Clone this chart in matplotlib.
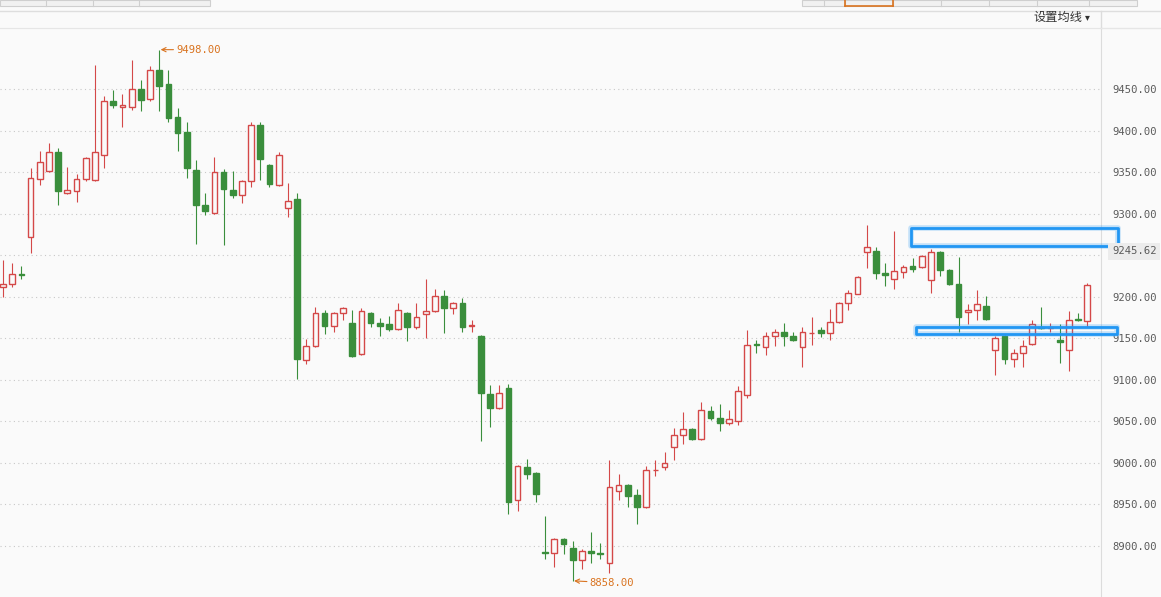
"""Candlestick chart with right-hand price axis, recreated from a screenshot."""

import matplotlib
matplotlib.use("Agg")
import matplotlib.pyplot as plt
from matplotlib.lines import Line2D
from matplotlib.patches import Rectangle
from matplotlib.transforms import blended_transform_factory
import numpy as np

# ---- data ------------------------------------------------------------------
opens = [
    9212, 9216, 9228, 9272, 9342, 9352, 9375, 9325, 9328, 9342,
    9341, 9371, 9436, 9429, 9429, 9451, 9439, 9474, 9457, 9417,
    9399, 9353, 9311, 9301, 9351, 9329, 9323, 9340, 9407, 9359,
    9335, 9307, 9318, 9124, 9141, 9181, 9165, 9181, 9169, 9131,
    9181, 9169, 9167, 9161, 9181, 9164, 9180, 9183, 9201, 9187,
    9193, 9165, 9153, 9083, 9066, 9090, 8955, 8995, 8988, 8893,
    8891, 8908, 8898, 8883, 8894, 8891, 8880, 8966, 8974, 8961,
    8947, 8991, 8995, 9019, 9034, 9041, 9029, 9063, 9054, 9048,
    9051, 9082, 9143, 9140, 9153, 9158, 9153, 9140, 9156, 9160,
    9157, 9170, 9193, 9204, 9254, 9255, 9229, 9222, 9230, 9237,
    9236, 9221, 9254, 9233, 9216, 9182, 9184, 9189, 9136, 9153,
    9125, 9133, 9143, 9164, 9163, 9148, 9136, 9174, 9171,
]
highs = [
    9245, 9241, 9237, 9355, 9376, 9386, 9380, 9357, 9348, 9369,
    9480, 9442, 9449, 9445, 9486, 9461, 9478, 9498, 9474, 9428,
    9411, 9365, 9325, 9369, 9354, 9352, 9341, 9411, 9411, 9360,
    9375, 9337, 9325, 9149, 9188, 9184, 9182, 9188, 9184, 9187,
    9182, 9175, 9177, 9193, 9182, 9193, 9222, 9210, 9208, 9194,
    9199, 9172, 9154, 9094, 9094, 9095, 8998, 9005, 8989, 8936,
    8909, 8909, 8906, 8896, 8917, 8904, 9004, 8987, 8975, 8969,
    8996, 9004, 9013, 9042, 9061, 9042, 9074, 9069, 9071, 9064,
    9093, 9160, 9148, 9158, 9161, 9169, 9158, 9164, 9176, 9164,
    9186, 9194, 9208, 9225, 9287, 9260, 9241, 9280, 9239, 9247,
    9251, 9258, 9255, 9234, 9248, 9192, 9208, 9201, 9153, 9154,
    9137, 9148, 9172, 9188, 9169, 9167, 9183, 9181, 9217,
]
lows = [
    9200, 9212, 9222, 9253, 9335, 9350, 9311, 9324, 9314, 9340,
    9340, 9355, 9428, 9405, 9425, 9424, 9436, 9424, 9411, 9376,
    9343, 9264, 9299, 9300, 9263, 9319, 9313, 9333, 9341, 9333,
    9334, 9296, 9101, 9119, 9140, 9155, 9158, 9172, 9128, 9130,
    9164, 9153, 9159, 9160, 9147, 9161, 9151, 9182, 9157, 9180,
    9158, 9158, 9027, 9043, 9065, 8938, 8942, 8981, 8953, 8884,
    8875, 8890, 8858, 8872, 8880, 8884, 8868, 8955, 8947, 8927,
    8946, 8984, 8992, 9004, 9023, 9028, 9028, 9052, 9039, 9046,
    9046, 9078, 9133, 9130, 9141, 9141, 9147, 9116, 9142, 9152,
    9148, 9169, 9184, 9203, 9235, 9222, 9213, 9210, 9223, 9230,
    9235, 9205, 9225, 9215, 9158, 9167, 9172, 9172, 9106, 9119,
    9116, 9116, 9142, 9161, 9158, 9120, 9111, 9171, 9164,
]
closes = [
    9216, 9228, 9227, 9343, 9363, 9375, 9328, 9329, 9342, 9367,
    9375, 9436, 9431, 9431, 9451, 9437, 9474, 9454, 9416, 9398,
    9355, 9311, 9304, 9351, 9330, 9323, 9340, 9407, 9366, 9336,
    9371, 9316, 9125, 9141, 9181, 9165, 9181, 9187, 9129, 9183,
    9169, 9165, 9161, 9184, 9164, 9176, 9183, 9201, 9187, 9193,
    9164, 9166, 9084, 9066, 9084, 8953, 8996, 8987, 8963, 8892,
    8908, 8902, 8883, 8894, 8891, 8890, 8971, 8974, 8960, 8947,
    8992, 8992, 9000, 9034, 9041, 9029, 9064, 9054, 9048, 9053,
    9087, 9142, 9142, 9153, 9158, 9153, 9148, 9158, 9157, 9157,
    9170, 9193, 9205, 9224, 9260, 9229, 9227, 9231, 9236, 9234,
    9249, 9254, 9233, 9216, 9176, 9184, 9192, 9174, 9151, 9125,
    9133, 9141, 9167, 9163, 9164, 9146, 9172, 9172, 9214,
]
price_ticks = [8900, 8950, 9000, 9050, 9100, 9150, 9200, 9250, 9300, 9350, 9400, 9450]
last_price = 9245.62
last_price_row = 9255          # where the price tag sits on the axis
resistance_zone = (9261, 9283)
support_zone = (9155, 9164)

# ---- style ------------------------------------------------------------------
W, H = 1161, 597
BG = "#fafafa"
RED = "#d44848"
GREEN = "#3a8e3c"
ORANGE = "#d9731f"
BLUE = "#2196f3"
TICK_FONT = dict(family="DejaVu Sans Mono", size=7.6, color="#5a5a5a")
plt.rcParams["font.family"] = ["Noto Sans CJK SC", "DejaVu Sans"]


def fx(px):
    return px / W


def fy(py):
    return 1 - py / H


fig = plt.figure(figsize=(W / 100, H / 100), dpi=100, facecolor=BG)
ax = fig.add_axes([0, 0, fx(1101), fy(28)], facecolor=BG)

o = np.array(opens, float)
h = np.array(highs, float)
l = np.array(lows, float)
c = np.array(closes, float)
x = np.arange(len(o))
up = c >= o
colors = np.where(up, RED, GREEN)

ax.vlines(x, l, h, colors=colors, lw=0.8, zorder=2)
body_lo = np.minimum(o, c)
body_h = np.maximum(np.abs(c - o), 0.8)
ax.bar(x[up], body_h[up], bottom=body_lo[up], width=0.62,
       facecolor=BG, edgecolor=RED, linewidth=1.0, zorder=3)
ax.bar(x[~up], body_h[~up], bottom=body_lo[~up], width=0.62,
       facecolor=GREEN, edgecolor=GREEN, linewidth=1.0, zorder=3)

ax.set_xlim(-0.33, 119.5)
ax.set_ylim(8838.5, 9524.1)

# the 9250 label sits under the last-price tag, so it is left blank
ax.set_yticks(price_ticks)
ax.set_yticklabels(["" if abs(t - last_price_row) < 10 else f"{t:.2f}"
                    for t in price_ticks], fontdict=TICK_FONT)
ax.yaxis.tick_right()
ax.tick_params(axis="y", length=0, pad=8)
ax.set_xticks([])
ax.grid(axis="y", color="#c8c8c8", linestyle=(0, (1, 3)), linewidth=0.8)
ax.set_axisbelow(True)
for side in ("left", "bottom"):
    ax.spines[side].set_visible(False)
ax.spines["right"].set_color("#dcdcdc")
ax.spines["top"].set_color("#e6e6e6")

# max / min markers
i_hi = int(np.argmax(h))
i_lo = int(np.argmin(l))
arrow = dict(arrowstyle="->", color=ORANGE, lw=0.8, shrinkA=0, shrinkB=1)
ax.annotate(f"{h[i_hi]:.2f}", xy=(i_hi, h[i_hi]), xytext=(17, 0),
            textcoords="offset pixels", ha="left", va="center",
            fontfamily="DejaVu Sans Mono", fontsize=7.6, color=ORANGE,
            arrowprops=arrow, annotation_clip=False)
ax.annotate(f"{l[i_lo]:.2f}", xy=(i_lo, l[i_lo]), xytext=(17, -2),
            textcoords="offset pixels", ha="left", va="center",
            fontfamily="DejaVu Sans Mono", fontsize=7.6, color=ORANGE,
            arrowprops=arrow, annotation_clip=False)

# hand-drawn zones
for (lo, hi), x0, x1 in ((resistance_zone, 98.85, 121.4), (support_zone, 99.4, 121.2)):
    for lw, a in ((4.0, 0.25), (2.0, 1.0)):
        ax.add_patch(Rectangle((x0, lo), x1 - x0, hi - lo, fill=False,
                               edgecolor=BLUE, linewidth=lw, alpha=a,
                               joinstyle="round", clip_on=False, zorder=6))

# last price tag
trans = blended_transform_factory(ax.transAxes, ax.transData)
ax.text(1 + 11 / 1101, last_price_row, f"{last_price:.2f}", transform=trans,
        ha="left", va="center", clip_on=False, zorder=7,
        bbox=dict(boxstyle="square,pad=0.35", fc="#ececec", ec="none"),
        **TICK_FONT)

# header / toolbar chrome
fig.add_artist(Line2D([0, 1], [fy(11), fy(11)], color="#dedede", lw=1))
fig.add_artist(Line2D([fx(1101), fx(1101)], [fy(11), fy(28)], color="#dcdcdc", lw=1))
fig.add_artist(Line2D([fx(1101), 1], [fy(28), fy(28)], color="#e6e6e6", lw=1))
for xs in ((0, 46, 93, 139, 210), (802, 824, 845, 893, 941, 989, 1037, 1089, 1137)):
    fig.add_artist(Rectangle((fx(xs[0]), fy(6)), fx(xs[-1] - xs[0]), 6 / H,
                             facecolor="#f1f1f1", edgecolor="#cfcfcf", lw=0.8))
    for xv in xs[1:-1]:
        fig.add_artist(Line2D([fx(xv), fx(xv)], [fy(0), fy(6)], color="#cfcfcf", lw=0.8))
fig.add_artist(Line2D([fx(845), fx(893)], [fy(6), fy(6)], color=ORANGE, lw=1.2))
fig.add_artist(Line2D([fx(845), fx(845)], [fy(0), fy(6)], color=ORANGE, lw=1.2))
fig.add_artist(Line2D([fx(893), fx(893)], [fy(0), fy(6)], color=ORANGE, lw=1.2))
fig.text(fx(1033), fy(17.5), "设置均线", ha="left", va="center", fontsize=8.8,
         color="#333333")
fig.text(fx(1085), fy(17.5), "▾", ha="left", va="center", fontsize=7,
         color="#333333", family=["DejaVu Sans"])

fig.savefig("out.png", dpi=100, facecolor=BG)
